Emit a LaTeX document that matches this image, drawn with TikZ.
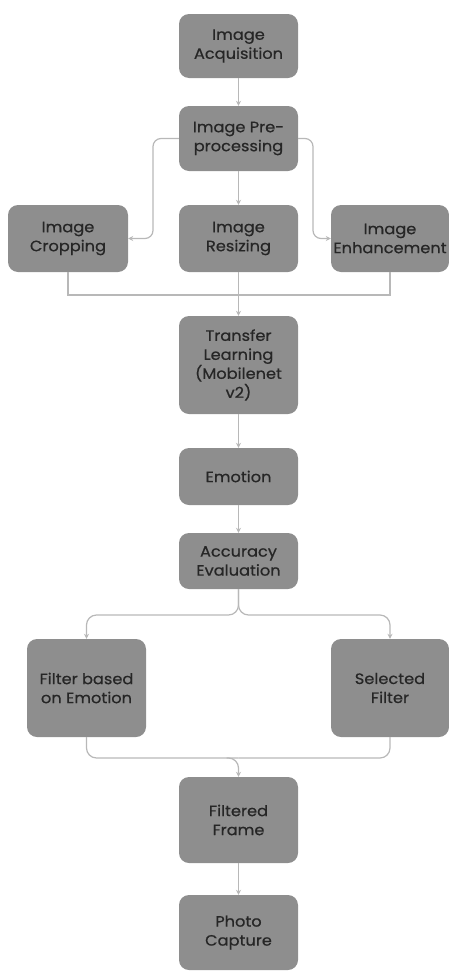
\documentclass[tikz,border=0pt]{standalone}
\usepackage{fontspec}
\setmainfont{Poppins}[FakeStretch=1.08,FakeBold=0.6]
\usetikzlibrary{arrows.meta,calc}
\definecolor{boxfill}{HTML}{8E8E8E}
\definecolor{boxtext}{HTML}{262626}
\definecolor{linec}{HTML}{B8B8B8}
\begin{document}
\begin{tikzpicture}[x=1pt,y=-1pt,
  stepbox/.style={draw=none,fill=boxfill,rounded corners=10pt,inner sep=0pt,
     align=center,text=boxtext,font=\fontsize{15}{19}\selectfont,
     minimum width=119pt},
  conn/.style={draw=linec,line width=1.2pt},
  arr/.style={conn,-{Stealth[length=5pt,width=5pt]}}]
\useasboundingbox (0,0) rectangle (449,972);
\node[stepbox,minimum height=64pt] (acq) at (238.5,46) {Image\\Acquisition};
\node[stepbox,minimum height=65pt] (pre) at (238.5,138.5) {Image Pre-\\processing};
\node[stepbox,minimum height=67pt,minimum width=120pt] (crop) at (68,238.5) {Image\\Cropping};
\node[stepbox,minimum height=67pt] (res) at (238.5,238.5) {Image\\Resizing};
\node[stepbox,minimum height=67pt,minimum width=118pt] (enh) at (390,238.5) {Image\\Enhancement};
\node[stepbox,minimum height=98pt] (tl) at (238.5,365) {Transfer\\Learning\\(Mobilenet\\v2)};
\node[stepbox,minimum height=57pt] (emo) at (238.5,476.5) {Emotion};
\node[stepbox,minimum height=56pt] (acc) at (238.5,561) {Accuracy\\Evaluation};
\node[stepbox,minimum height=98pt] (fbe) at (86.5,688) {Filter based\\on Emotion};
\node[stepbox,minimum height=98pt,minimum width=118pt] (sel) at (390,688) {Selected\\Filter};
\node[stepbox,minimum height=86pt] (ff) at (238.5,820) {Filtered\\Frame};
\node[stepbox,minimum height=75pt] (pc) at (238.5,932.5) {Photo\\Capture};
% connectors
\draw[arr] (acq) -- (pre);
\draw[arr] (pre) -- (res);
\draw[arr,rounded corners=8pt] (pre.west) -- (153,138.5) |- (crop.east);
\draw[arr,rounded corners=8pt] (pre.east) -- (313,138.5) |- (enh.west);
\coordinate (m1) at (238.5,295);
\draw[conn] (crop.south) |- (m1) -| (enh.south);
\draw[arr] (res) -- (tl);
\draw[arr] (tl) -- (emo);
\draw[arr] (emo) -- (acc);
\coordinate (b1) at (238.5,615);
\draw[arr,rounded corners=10pt] (acc.south) -- (b1) -| (fbe.north);
\draw[arr,rounded corners=10pt] (acc.south) -- (b1) -| (sel.north);
\coordinate (m2) at (238.5,758);
\draw[conn,rounded corners=10pt] (fbe.south) |- (m2);
\draw[conn,rounded corners=10pt] (sel.south) |- (m2);
\draw[arr,rounded corners=10pt] ($(m2)+(-12,0)$) -| (ff.north);
\draw[arr] (ff) -- (pc);
\end{tikzpicture}
\end{document}
